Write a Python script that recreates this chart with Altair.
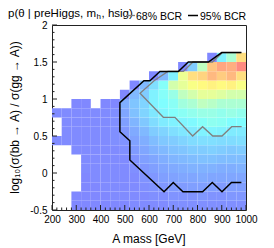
import altair as alt
import pandas as pd

# bin edges
mass_edges = [200, 240, 280, 320, 360, 400, 440, 480, 520, 560, 600,
              640, 680, 720, 760, 800, 840, 880, 920, 960, 1000]
ratio_edges = [-0.5, -0.375, -0.25, -0.125, 0.0, 0.125, 0.25, 0.375, 0.5,
               0.625, 0.75, 0.875, 1.0, 1.125, 1.25, 1.375, 1.5, 1.625,
               1.75, 1.875, 2.0]

N = None
# posterior density (relative), one list per ratio bin, bottom to top
row00 = [N, N, .02, .02, .02, .02, .02, .02, .03, .03, .03, .03, .04, .04, .04, .04, .04, .04, .04, .04]
row01 = [N, N, .02, .02, .02, .02, .03, .03, .03, .03, .04, .04, .05, .05, .05, .06, .05, .05, .06, .06]
row02 = [N, N, N, .02, .02, .03, .03, .03, .03, .04, .05, .06, .07, .07, .08, .08, .08, .07, .08, .08]
row03 = [N, N, N, .02, .03, .03, .03, .03, .03, .05, .06, .08, .09, .10, .10, .11, .10, .10, .10, .10]
row04 = [N, N, N, .03, .03, .03, .03, .03, .04, .06, .08, .10, .11, .12, .13, .13, .13, .12, .12, .13]
row05 = [N, N, N, .03, .03, .03, .03, .03, .05, .08, .10, .12, .14, .15, .16, .17, .17, .16, .16, .16]
row06 = [N, N, .03, .03, .03, .03, .03, .04, .07, .10, .13, .15, .17, .18, .20, .20, .21, .20, .19, .20]
row07 = [.03, .03, .03, .03, .03, .03, .04, .05, .09, .12, .16, .19, .20, .22, .24, .25, .25, .24, .24, .25]
row08 = [N, .03, .03, .03, .03, .03, .04, .06, .11, .15, .20, .22, .25, .27, .28, .30, .31, .30, .28, .28]
row09 = [N, .03, .03, .03, .03, .03, .04, .08, .14, .19, .24, .28, .30, .31, .32, .35, .37, .36, .33, .33]
row10 = [.03, .03, .03, .03, .03, .03, .04, .10, .17, .22, .27, .31, .34, .36, .38, .40, .40, .38, .40, .38]
row11 = [N, N, .02, .02, N, .02, .02, .12, .18, .22, .30, .33, .36, .42, .45, .50, .48, .45, .45, .45]
row12 = [N, N, N, N, N, N, N, .02, .15, .20, .30, .35, .40, .50, .55, .60, .60, .58, .55, .55]
row13 = [N, N, N, N, N, N, N, N, .02, .15, .25, .35, .55, .60, .65, .68, .70, .68, .70, .65]
row14 = [N, N, N, N, N, N, N, N, N, N, .02, .15, .30, .62, .75, .78, .85, .80, .85, .75]
row15 = [N, N, N, N, N, N, N, N, N, N, N, N, N, .02, .20, .50, .82, .90, .88, .97]
row16 = [N, N, N, N, N, N, N, N, N, N, N, N, N, N, N, N, .02, .30, .45, .75]
row17 = [N] * 20
row18 = [N] * 20
row19 = [N] * 20
rows = [row00, row01, row02, row03, row04, row05, row06, row07, row08, row09,
        row10, row11, row12, row13, row14, row15, row16, row17, row18, row19]

# credible-region contours
bcr95_mass = [981, 900, 845, 762, 721, 645, 604, 579, 480, 480, 521, 521,
              662, 700, 740, 821, 861, 901, 940, 981]
bcr95_ratio = [1.628, 1.628, 1.5, 1.5, 1.372, 1.372, 1.247, 1.247, 0.95, 0.558,
               0.436, 0.176, -0.253, -0.128, -0.253, -0.253, -0.128, -0.253,
               -0.128, -0.128]
bcr68_mass = [981, 903, 862, 781, 742, 678, 621, 563, 659, 707, 780, 821,
              863, 901, 941, 982]
bcr68_ratio = [1.628, 1.628, 1.5, 1.5, 1.372, 1.372, 1.247, 1.077, 0.753, 0.753,
               0.5, 0.626, 0.5, 0.5, 0.626, 0.626]

x_major = [200, 300, 400, 500, 600, 700, 800, 900, 1000]
x_minor = [220, 240, 260, 280, 320, 340, 360, 380, 420, 440, 460, 480,
           520, 540, 560, 580, 620, 640, 660, 680, 720, 740, 760, 780,
           820, 840, 860, 880, 920, 940, 960, 980]
y_major = [-0.5, 0.0, 0.5, 1.0, 1.5, 2.0]
y_minor = [-0.4, -0.3, -0.2, -0.1, 0.1, 0.2, 0.3, 0.4, 0.6, 0.7, 0.8, 0.9,
           1.1, 1.2, 1.3, 1.4, 1.6, 1.7, 1.8, 1.9]

W, H = 194, 185
FONT = "Liberation Sans"

cells = []
for j, row in enumerate(rows):
    for i, v in enumerate(row):
        if v is None:
            continue
        cells.append({"m0": mass_edges[i], "m1": mass_edges[i + 1],
                      "r0": ratio_edges[j], "r1": ratio_edges[j + 1], "p": v})
cells = pd.DataFrame(cells)

xs = alt.Scale(domain=[200, 1000], nice=False, zero=False)
ys = alt.Scale(domain=[-0.5, 2.0], nice=False, zero=False)
xaxis = alt.Axis(values=x_major, ticks=False, domain=False, grid=False,
                 labelFont=FONT, labelFontSize=10, labelColor="#000",
                 labelPadding=4, labelFlush=False, labelOverlap=False,
                 labelExpr="toString(datum.value)", title=None)
yaxis = alt.Axis(values=y_major, ticks=False, domain=False, grid=False,
                 labelFont=FONT, labelFontSize=10, labelColor="#000",
                 labelPadding=5, labelFlush=False, labelOverlap=False,
                 labelExpr="toString(datum.value)", title=None)


def X(field):
    return alt.X(field, scale=xs, axis=xaxis, title=None)


def Y(field):
    return alt.Y(field, scale=ys, axis=yaxis, title=None)


heat = alt.Chart(cells).mark_rect(strokeWidth=0).encode(
    x=X("m0:Q"), x2="m1:Q",
    y=Y("r0:Q"), y2="r1:Q",
    color=alt.Color("p:Q", legend=None,
                    scale=alt.Scale(domain=[0, 0.333, 0.667, 1.0],
                                    range=["#8080ff", "#80ffff", "#ffff80", "#ff8080"],
                                    interpolate="rgb")),
)

c95 = pd.DataFrame({"m0": bcr95_mass, "r0": bcr95_ratio, "k": list(range(len(bcr95_mass)))})
c68 = pd.DataFrame({"m0": bcr68_mass, "r0": bcr68_ratio, "k": list(range(len(bcr68_mass)))})

line95 = alt.Chart(c95).mark_line(color="#000000", strokeWidth=1.5).encode(
    x=X("m0:Q"), y=Y("r0:Q"), order="k:O")
line68 = alt.Chart(c68).mark_line(color="#808080", strokeWidth=1.3).encode(
    x=X("m0:Q"), y=Y("r0:Q"), order="k:O")


def xticks(vals, length):
    return alt.Chart(pd.DataFrame({"m0": vals})).mark_rule(color="#222", strokeWidth=1).encode(
        x=X("m0:Q"), y=alt.value(H), y2=alt.value(H - length))


def yticks(vals, length):
    return alt.Chart(pd.DataFrame({"r0": vals})).mark_rule(color="#222", strokeWidth=1).encode(
        y=Y("r0:Q"), x=alt.value(0), x2=alt.value(length))


def label(text, x, y, size, align="left", angle=0, color="#000"):
    return alt.Chart(pd.DataFrame({"t": [text]})).mark_text(
        font=FONT, fontSize=size, align=align, baseline="alphabetic",
        angle=angle, color=color).encode(
        text="t:N", x=alt.value(x), y=alt.value(y))


title1 = label("p(\u03b8 | preHiggs, m", -44, -8.5, 11.5)
title2 = label("h", 44.5, -6, 8)
title3 = label(", hsig)", 49.5, -8.5, 11.5)

leg_line68 = alt.Chart(pd.DataFrame({"a": [0]})).mark_rule(color="#808080", strokeWidth=1.3).encode(
    x=alt.value(74), x2=alt.value(83), y=alt.value(-9.5))
leg_text68 = label("68% BCR", 84, -5, 10.5)
leg_line95 = alt.Chart(pd.DataFrame({"a": [0]})).mark_rule(color="#000", strokeWidth=1.5).encode(
    x=alt.value(136), x2=alt.value(146), y=alt.value(-9.5))
leg_text95 = label("95% BCR", 148, -5, 10.5)

ytitle = label("log\u2081\u2080(\u03c3(bb \u2192 A) / \u03c3(gg \u2192 A))", -33, H / 2, 12,
               align="center", angle=270)
xtitle = label("A mass [GeV]", W / 2, 218, 12, align="center")

chart = alt.layer(
    heat, line68, line95,
    xticks(x_major, 5), xticks(x_minor, 2.5), yticks(y_major, 5), yticks(y_minor, 2.5),
    title1, title2, title3, leg_line68, leg_text68, leg_line95, leg_text95,
    ytitle, xtitle,
).properties(
    width=W, height=H,
    autosize=alt.AutoSizeParams(type="none"),
    padding={"left": 44, "top": 17, "right": 20, "bottom": 38},
).configure_view(stroke="#222", strokeWidth=1)

chart.save("out.html", embed_options={"renderer": "svg", "actions": False})
